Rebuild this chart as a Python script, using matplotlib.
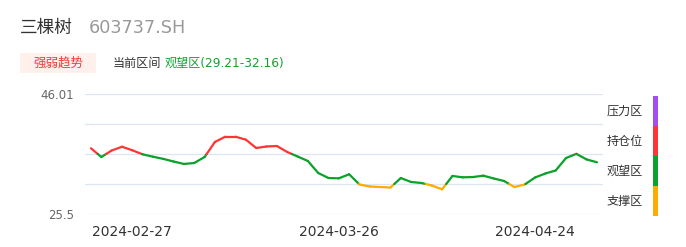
import matplotlib.pyplot as plt
import numpy as np
from matplotlib.collections import LineCollection
from matplotlib.patches import Rectangle

plt.rcParams["font.family"] = ["DejaVu Sans", "Noto Sans CJK SC"]

# ── Data ───────────────────────────────────────────────────────────────────────
dates = [
    "2024-02-21", "2024-02-22", "2024-02-23", "2024-02-26", "2024-02-27",
    "2024-02-28", "2024-02-29", "2024-03-01", "2024-03-04", "2024-03-05",
    "2024-03-06", "2024-03-07", "2024-03-08", "2024-03-11", "2024-03-12",
    "2024-03-13", "2024-03-14", "2024-03-15", "2024-03-18", "2024-03-19",
    "2024-03-20", "2024-03-21", "2024-03-22", "2024-03-25", "2024-03-26",
    "2024-03-27", "2024-03-28", "2024-03-29", "2024-04-01", "2024-04-02",
    "2024-04-03", "2024-04-08", "2024-04-09", "2024-04-10", "2024-04-11",
    "2024-04-12", "2024-04-15", "2024-04-16", "2024-04-17", "2024-04-18",
    "2024-04-19", "2024-04-22", "2024-04-23", "2024-04-24", "2024-04-25",
    "2024-04-26", "2024-04-29", "2024-04-30", "2024-05-06", "2024-05-07",
]
prices = [
    36.73, 35.24, 36.35, 37.00, 36.39, 35.70, 35.29, 34.92, 34.47, 34.05,
    34.22, 35.24, 37.81, 38.71, 38.71, 38.20, 36.78, 37.04, 37.12, 36.10,
    35.33, 34.56, 32.51, 31.65, 31.60, 32.29, 30.54, 30.20, 30.11, 30.03,
    31.65, 30.97, 30.80, 30.37, 29.72, 32.00, 31.77, 31.82, 32.05, 31.57,
    31.14, 30.11, 30.54, 31.74, 32.42, 32.94, 35.07, 35.78, 34.82, 34.34,
]
tick_dates = ["2024-02-27", "2024-03-26", "2024-04-24"]

y_min, y_max = 25.5, 46.01
zone_names = ["支撑区", "观望区", "持仓位", "压力区"]  # bottom -> top
zone_colors = ["#ffab00", "#0aa22a", "#ff3535", "#a24ef0"]

name, code = "三棵树", "603737.SH"
current_zone = "观望区(29.21-32.16)"

# ── Figure ─────────────────────────────────────────────────────────────────────
W, H = 686, 247
fig = plt.figure(figsize=(W / 100, H / 100), dpi=100)
fig.patch.set_facecolor("white")

ax = fig.add_axes([85 / W, 1 - 214 / H, 518 / W, 120 / H])
levels = np.linspace(y_min, y_max, len(zone_names) + 1)

# colour-split line
x = np.arange(len(prices), dtype=float)
y = np.array(prices)
segs, cols = [], []
for i in range(len(x) - 1):
    x0, y0, x1, y1 = x[i], y[i], x[i + 1], y[i + 1]
    cuts = [0.0]
    for lv in levels[1:-1]:
        if (y0 - lv) * (y1 - lv) < 0:
            cuts.append((lv - y0) / (y1 - y0))
    cuts = sorted(cuts) + [1.0]
    for a, b in zip(cuts[:-1], cuts[1:]):
        pa = (x0 + a * (x1 - x0), y0 + a * (y1 - y0))
        pb = (x0 + b * (x1 - x0), y0 + b * (y1 - y0))
        mid = (pa[1] + pb[1]) / 2
        k = int(np.clip(np.searchsorted(levels, mid) - 1, 0, len(zone_colors) - 1))
        segs.append([pa, pb])
        cols.append(zone_colors[k])
lc = LineCollection(segs, colors=cols, linewidths=1.6, capstyle="round",
                    joinstyle="round", zorder=3)
ax.add_collection(lc)

for lv in levels:
    ax.axhline(lv, color="#dfe4f2", linewidth=0.9, zorder=1)

pad = 6 / 10.33
ax.set_xlim(-pad, len(prices) - 1 + pad)
ax.set_ylim(y_min, y_max)
ax.set_yticks([y_min, y_max])
ax.set_yticklabels(["25.5", "46.01"])
ax.set_xticks([dates.index(d) for d in tick_dates])
ax.set_xticklabels(tick_dates)
ax.tick_params(axis="y", length=0, pad=8, labelsize=8.5, labelcolor="#666666")
ax.tick_params(axis="x", length=0, pad=8, labelsize=10, labelcolor="#333333")
for s in ax.spines.values():
    s.set_visible(False)

# ── Header ─────────────────────────────────────────────────────────────────────
fig.text(20 / W, 1 - 28 / H, name, fontsize=12.7, color="#333333", va="center")
fig.text(89 / W, 1 - 28 / H, code, fontsize=12.7, color="#999999", va="center")
fig.add_artist(Rectangle((20 / W, 1 - 73 / H), 76 / W, 20 / H,
                         transform=fig.transFigure, facecolor="#fff0ec",
                         edgecolor="none"))
fig.text(58 / W, 1 - 63 / H, "强弱趋势", fontsize=9, color="#f23a3a",
         ha="center", va="center")
fig.text(113 / W, 1 - 63 / H, "当前区间", fontsize=8.7, color="#333333",
         va="center")
fig.text(165 / W, 1 - 63 / H, current_zone, fontsize=8.7, color="#10a32c",
         va="center")

# ── Zone legend ────────────────────────────────────────────────────────────────
bar_top, bar_bot = 96, 216
seg_h = (bar_bot - bar_top) / len(zone_names)
for k, (zn, zc) in enumerate(zip(zone_names, zone_colors)):
    top = bar_bot - (k + 1) * seg_h
    fig.add_artist(Rectangle((653 / W, 1 - (top + seg_h) / H), 4.5 / W, seg_h / H,
                             transform=fig.transFigure, facecolor=zc,
                             edgecolor="none"))
    fig.text(607 / W, 1 - (top + seg_h / 2) / H, zn, fontsize=8.7,
             color="#333333", va="center")

fig.savefig("out.png", dpi=100, facecolor="white")
